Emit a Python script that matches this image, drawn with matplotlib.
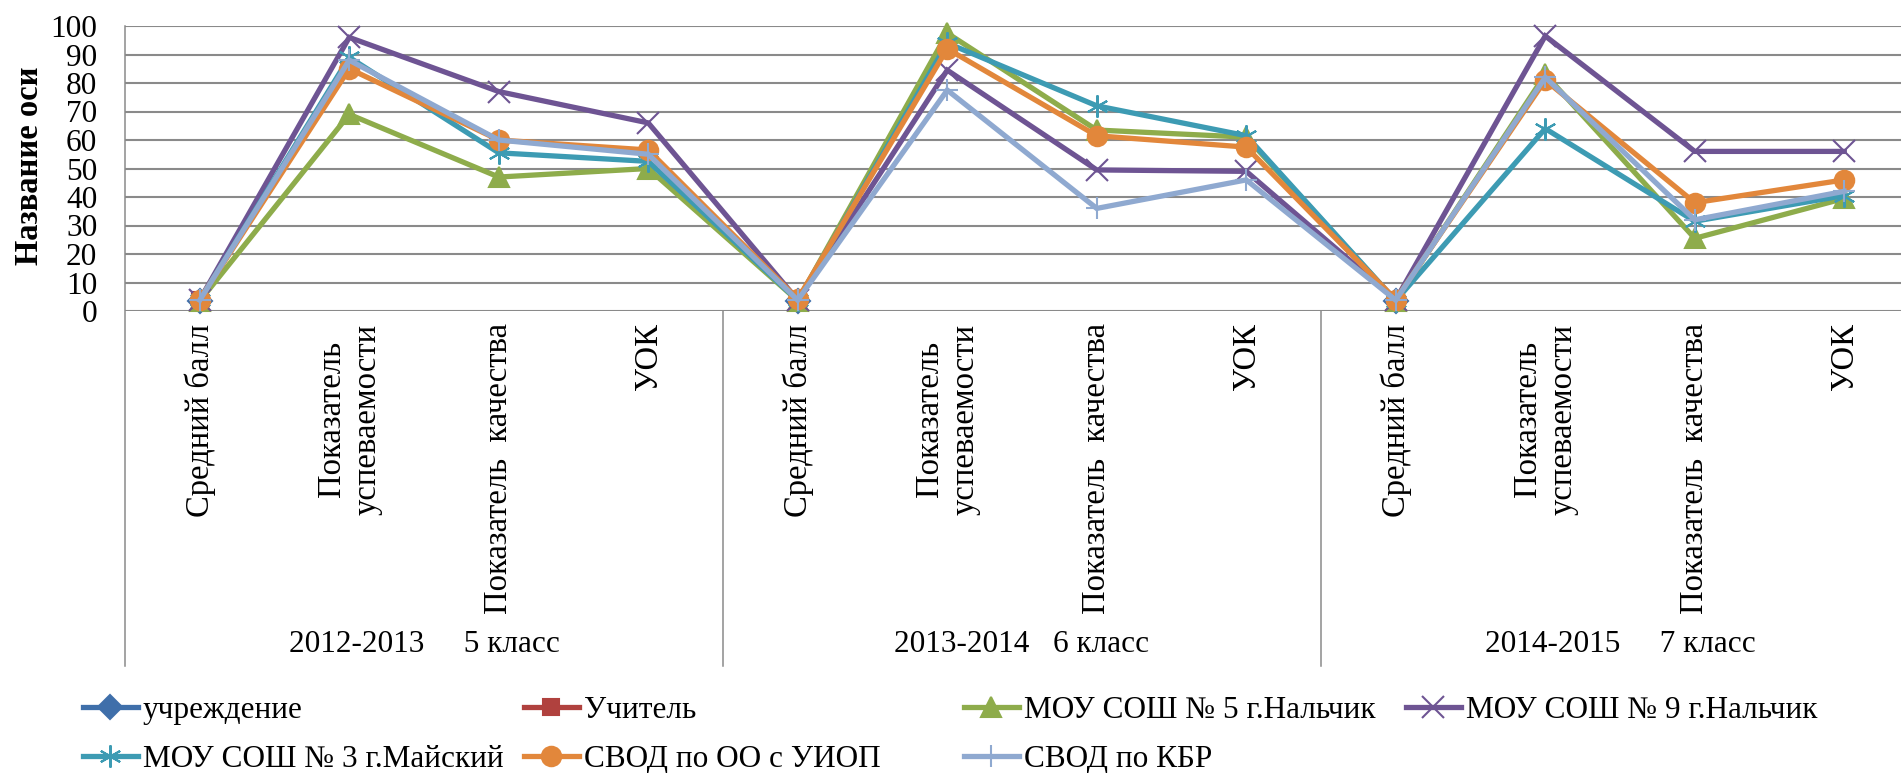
import numpy as np
import matplotlib.pyplot as plt
from matplotlib.transforms import blended_transform_factory

plt.rcParams['font.family'] = ['Liberation Serif', 'DejaVu Serif']

## данные
categories = ['Средний балл', 'Показатель\nуспеваемости', 'Показатель  качества', 'УОК'] * 3
groups = ['2012-2013     5 класс', '2013-2014   6 класс', '2014-2015     7 класс']
nan = np.nan
uchrezhdenie = [3.6, nan, nan, nan, 3.6, nan, nan, nan, 3.6, nan, nan, nan]
uchitel = [3.7, nan, nan, nan, 3.7, nan, nan, nan, 3.7, nan, nan, nan]
sosh5 = [3.5, 69, 47, 50, 3.6, 97.5, 63.5, 61, 3.5, 83, 25.5, 39.5]
sosh9 = [3.9, 96, 77, 66, 3.8, 84.5, 49.5, 49, 3.9, 96.5, 56, 56]
sosh3 = [3.7, 89, 55.5, 52.5, 3.7, 94, 72, 61.5, 3.6, 64, 31.5, 40.5]
svod_oo = [4.0, 85, 60, 56.5, 4.2, 92, 61.5, 57.5, 4.0, 81, 38, 46]
svod_kbr = [3.8, 88, 60, 55, 3.8, 77.5, 36, 46, 3.8, 82, 32, 42]

names = ['учреждение', 'Учитель', 'МОУ СОШ № 5 г.Нальчик', 'МОУ СОШ № 9 г.Нальчик',
         'МОУ СОШ № 3 г.Майский', 'СВОД по ОО с УИОП', 'СВОД по КБР']
values = [uchrezhdenie, uchitel, sosh5, sosh9, sosh3, svod_oo, svod_kbr]
colors = ['#3F6FAA', '#B0413E', '#8EAC4B', '#6E5493', '#3D9BB3', '#E2873B', '#8FA9D0']
markers = ['D', 's', '^', 'x', (6, 2, 0), 'o', '+']
msizes = [12, 12, 15, 16, 16, 14, 16]

fs = 22.5
W, H = 1901, 773
fig = plt.figure(figsize=(W / 100, H / 100), dpi=100)
# ось Y: 100 на 26px, 0 на 311px; слева 125px
ax = fig.add_axes([125 / W, 1 - 311 / H, 1 - 125 / W, 285 / H])
x = np.arange(12)

lines = []
for name, v, c, m, ms in zip(names, values, colors, markers, msizes):
    ln, = ax.plot(x, v, color=c, lw=3.8, marker=m, markersize=ms,
                  markerfacecolor=c, markeredgecolor=c, markeredgewidth=1.5,
                  label=name, clip_on=False, solid_joinstyle='miter')
    lines.append(ln)

ax.set_ylim(0, 100)
ax.set_xlim(-0.5, -0.5 + 1776 / 149.5)
ax.set_yticks(range(0, 101, 10))
ax.yaxis.grid(True, color='#8A8A8A', lw=1.5)
ax.set_axisbelow(True)
for s in ax.spines.values():
    s.set_visible(False)
ax.tick_params(axis='y', length=0, pad=20, labelsize=fs)
ax.set_xticks(x)
ax.set_xticklabels(categories, rotation=90, fontsize=23.5, multialignment='center')
ax.tick_params(axis='x', length=0, pad=9)

## разделители групп
tr = blended_transform_factory(ax.transData, ax.transAxes)
y_low = (311 - 666) / 285
for xs in [-0.5, 3.5, 7.5, 11.5]:
    ax.plot([xs, xs], [1 if xs == -0.5 else 0, y_low], color='#8A8A8A', lw=1.1,
            transform=tr, clip_on=False)
for i, g in enumerate(groups):
    ax.text(4 * i + 1.5, (311 - 645) / 285, g, transform=tr, ha='center', va='center',
            fontsize=fs)

fig.text(30 / W, 1 - 166 / H, 'Название оси', rotation=90, ha='center', va='center',
         fontsize=23.5, fontweight='bold')

## легенда: 4 колонки
cols = [[0, 4], [1, 5], [2, 6], [3]]
col_x = [83, 524, 964, 1406]
for idx, cx in zip(cols, col_x):
    fig.legend([lines[i] for i in idx], [names[i] for i in idx], loc='upper left',
               bbox_to_anchor=(cx / W, 1 - 696 / H), frameon=False, fontsize=fs,
               borderpad=0, borderaxespad=0, handlelength=1.75, handletextpad=0.17,
               labelspacing=0.65)

fig.savefig('out.png', dpi=100)
